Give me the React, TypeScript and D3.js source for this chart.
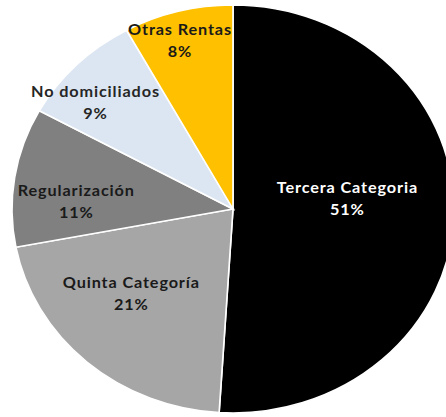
import React from "react";
import * as d3 from "d3";

const categories = ["Tercera Categoria", "Quinta Categoría", "Regularización", "No domiciliados", "Otras Rentas"];
const values = [51, 21, 11, 9, 8];
const colors = ["#000000", "#A6A6A6", "#808080", "#DCE6F2", "#FFC000"];
const textColors = ["#ffffff", "#1a1a1a", "#1a1a1a", "#262626", "#1a1a1a"];
// label placement: share of the radius and a small turn (degrees) off the slice middle
const labelR = [0.52, 0.62, 0.71, 0.81, 0.86];
const labelTurn = [-7.2, 6.5, -6.2, -5.2, -1.8];

const PieChart = ({
  width = 446,
  height = 417,
  cx = 233,
  cy = 209,
  rx = 221,
  ry = 204,
}: {
  width?: number;
  height?: number;
  cx?: number;
  cy?: number;
  rx?: number;
  ry?: number;
}): React.JSX.Element => {
  const sx = rx / ry; // source image is a bit stretched sideways
  const total = d3.sum(values);
  const pie = d3.pie<number>().sort(null).value((d) => d);
  const arcs = pie(values);
  const arc = d3.arc<d3.PieArcDatum<number>>().innerRadius(0).outerRadius(ry);

  return (
    <svg width={width} height={height} style={{ position: "absolute", left: 0, top: 0 }}>
      <rect width={width} height={height} fill="#ffffff" />
      <g transform={`translate(${cx},${cy}) scale(${sx},1)`}>
        {arcs.map((a, i) => (
          <path key={i} d={arc(a) as string} fill={colors[i]} stroke="#ffffff" strokeWidth={1.5} />
        ))}
        {arcs.map((a, i) => {
          const r = labelR[i] * ry;
          const ang = (a.startAngle + a.endAngle) / 2 + (labelTurn[i] * Math.PI) / 180;
          const x = Math.sin(ang) * r;
          const y = -Math.cos(ang) * r;
          const pct = Math.round((values[i] / total) * 100) + "%";
          return (
            <text
              key={"t" + i}
              x={x}
              y={y - 6}
              textAnchor="middle"
              fill={textColors[i]}
              fontFamily="Lato, 'Open Sans', sans-serif"
              fontWeight="bold"
              fontSize={15}
              letterSpacing={0.8}
            >
              <tspan x={x}>{categories[i]}</tspan>
              <tspan x={x} dy={22}>{pct}</tspan>
            </text>
          );
        })}
      </g>
    </svg>
  );
};

export default function App() {
  return <PieChart />;
}
